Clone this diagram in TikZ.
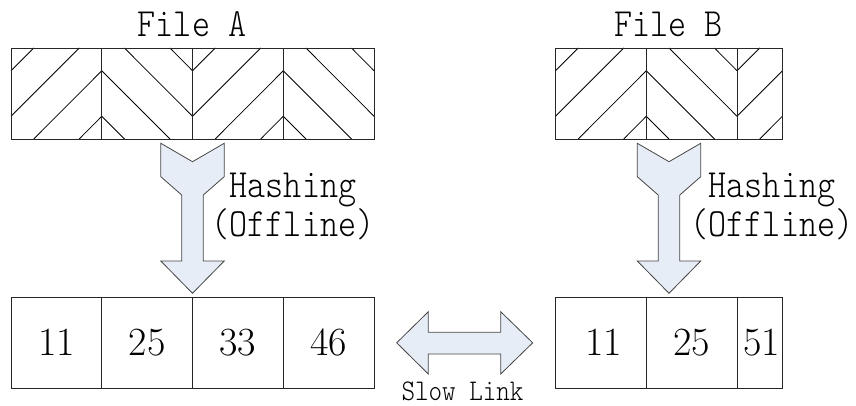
\documentclass[tikz,border=0pt]{standalone}
\usepackage{fontspec}
\newfontfamily\labfont[FakeStretch=0.86]{lmmonolt10-regular.otf}
\definecolor{arrowfill}{RGB}{231,237,246}
\definecolor{edgegray}{RGB}{70,70,70}
\newcommand{\myhatchF}[1]{%
  \begin{scope}[shift={(#1,48)}]
    \draw[hatch] (0,22.75) -- (22.75,0);
    \draw[hatch] (0,68.25) -- (68.25,0);
    \draw[hatch] (22.75,91) -- (90.75,22.75);
    \draw[hatch] (68.25,91) -- (90.75,68.25);
  \end{scope}}
\newcommand{\myhatchB}[1]{%
  \begin{scope}[shift={(#1,48)}]
    \draw[hatch] (0,22.75) -- (68.25,91);
    \draw[hatch] (0,68.25) -- (22.75,91);
    \draw[hatch] (22.75,0) -- (90.75,68.25);
    \draw[hatch] (68.25,0) -- (90.75,22.75);
  \end{scope}}
\begin{document}
\begin{tikzpicture}[x=1pt,y=-1pt,
  hatch/.style={draw=black,line width=0.75pt},
  cell/.style={draw=black!85,line width=0.9pt,minimum width=90.75pt,minimum height=91pt,inner sep=0pt,outer sep=0pt,font=\fontsize{40}{40}\selectfont},
  halfcell/.style={cell,minimum width=45.25pt},
  title/.style={anchor=base,inner sep=0pt,font=\labfont\fontsize{40}{40}\selectfont},
  hashlabel/.style={anchor=base,inner sep=0pt,align=center,font=\labfont\fontsize{40}{32}\selectfont},
  small/.style={anchor=base,inner sep=0pt,font=\labfont\fontsize{30}{30}\selectfont},
  fatarrow/.style={draw=edgegray,fill=arrowfill,line width=0.8pt,line join=miter}]
\useasboundingbox (0,0) rectangle (856,406);

% hatching of the files
\myhatchF{11}
\myhatchB{101.75}
\myhatchF{192.5}
\myhatchB{283.25}
\myhatchF{555.5}
\myhatchB{646.25}
\begin{scope}
  \clip (737,48) rectangle (782.5,139);
  \myhatchF{737}
\end{scope}

% file A blocks
\node[cell] (fa1) at (56.375,93.5) {};
\node[cell] (fa2) at (147.125,93.5) {};
\node[cell] (fa3) at (237.875,93.5) {};
\node[cell] (fa4) at (328.625,93.5) {};
% file B blocks
\node[cell] (fb1) at (600.875,93.5) {};
\node[cell] (fb2) at (691.625,93.5) {};
\node[halfcell] (fb3) at (759.75,93.5) {};

% hash rows
\node[cell] (ha1) at (56.375,342.5) {11};
\node[cell] (ha2) at (147.125,342.5) {25};
\node[cell] (ha3) at (237.875,342.5) {33};
\node[cell] (ha4) at (328.625,342.5) {46};
\node[cell] (hb1) at (600.875,342.5) {\hspace*{6pt}11};
\node[cell] (hb2) at (691.625,342.5) {25};
\node[halfcell] (hb3) at (759.75,342.5) {\hspace*{4pt}51};

% titles
\node[title] (ta) at (192,36.7) {File A};
\node[title] (tb) at (668.8,36.7) {File B};

% hashing arrows
\foreach \cx/\nm in {192.5/A,669/B}{
  \draw[fatarrow] (\cx-31.7,143.3) -- (\cx,161.7) -- (\cx+31.7,143.3) -- (\cx+31.7,176.7)
    -- (\cx+10.8,195) -- (\cx+10.8,261) -- (\cx+31.7,261) -- (\cx,293.3)
    -- (\cx-31.7,261) -- (\cx-10.8,261) -- (\cx-10.8,195) -- (\cx-31.7,176.7) -- cycle;
}
\node[hashlabel] (hla) at (293,236) {Hashing\\(Offline)};
\node[hashlabel] (hlb) at (772,236) {Hashing\\(Offline)};

% slow link double arrow
\draw[fatarrow] (396.7,342.8) -- (428.3,311.7) -- (428.3,332.3) -- (500.7,332.3)
  -- (500.7,311.7) -- (532.7,342.8) -- (500.7,374) -- (500.7,354)
  -- (428.3,354) -- (428.3,374) -- cycle;
\node[small] (sl) at (462.5,400) {Slow Link};
\end{tikzpicture}
\end{document}
